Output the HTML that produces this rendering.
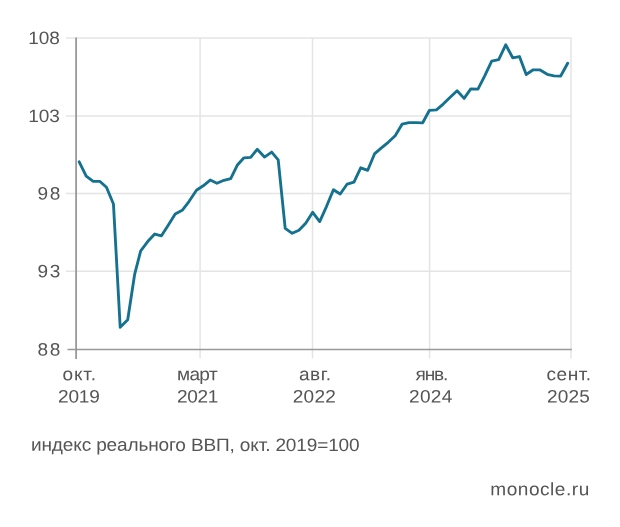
<!DOCTYPE html>
<html lang="ru"><head><meta charset="utf-8"><title>индекс реального ВВП</title>
<style>html,body{margin:0;padding:0;background:#fff}svg{display:block}</style></head>
<body>
<svg width="620" height="527" viewBox="0 0 620 527">
<rect width="620" height="527" fill="#fff"/>
<line x1="66" y1="37.9" x2="571.5" y2="37.9" stroke="#e4e4e4" stroke-width="1.5"/>
<line x1="66" y1="116.0" x2="571.5" y2="116.0" stroke="#e4e4e4" stroke-width="1.5"/>
<line x1="66" y1="193.6" x2="571.5" y2="193.6" stroke="#e4e4e4" stroke-width="1.5"/>
<line x1="66" y1="271.3" x2="571.5" y2="271.3" stroke="#e4e4e4" stroke-width="1.5"/>
<line x1="200.1" y1="38" x2="200.1" y2="358.5" stroke="#e4e4e4" stroke-width="1.5"/>
<line x1="312.5" y1="38" x2="312.5" y2="358.5" stroke="#e4e4e4" stroke-width="1.5"/>
<line x1="429.6" y1="38" x2="429.6" y2="358.5" stroke="#e4e4e4" stroke-width="1.5"/>
<line x1="571.0" y1="38" x2="571.0" y2="358.5" stroke="#e4e4e4" stroke-width="1.5"/>
<line x1="76.1" y1="37.5" x2="76.1" y2="359" stroke="#999999" stroke-width="1.8"/>
<line x1="67.5" y1="349.5" x2="571.8" y2="349.5" stroke="#999999" stroke-width="1.5"/>
<polyline points="79.2,161.8 86.2,176.05 93.2,181.3 99.7,181.3 106.45,187.3 113.45,204.05 120.2,327.3 127.7,319.8 134.7,274.05 140.7,250.8 147.7,241.55 154.7,234.05 161.45,235.8 168.2,225.3 175.2,214.05 182.2,210.3 188.95,201.55 196.45,190.3 203.2,185.8 210.2,180.05 216.95,183.3 223.95,180.3 230.7,178.55 237.2,165.3 243.95,157.8 250.7,157.3 257.2,149.3 264.45,157.05 271.7,152.05 278.2,159.8 285.2,228.3 292.2,233.3 298.95,230.3 305.7,223.3 312.7,212.3 319.7,221.55 326.45,206.55 333.45,189.7 340.2,194.05 347.2,184.05 353.95,182.05 360.7,167.8 367.7,170.3 374.7,153.55 381.45,147.8 388.2,142.3 395.2,135.8 402.2,124.05 408.95,122.55 415.95,122.55 422.7,122.8 429.45,110.3 436.45,109.8 443.2,104.05 450.2,97.2 457.1,90.8 464.1,98.4 470.8,88.9 477.95,89.05 484.7,75.8 491.7,61.05 498.7,59.55 505.7,44.8 512.7,57.8 519.45,56.55 526.2,74.55 533.2,69.8 539.7,69.8 547.2,74.3 553.95,75.8 560.7,76.05 567.7,63.3" fill="none" stroke="#14718f" stroke-width="2.85" stroke-linejoin="round" stroke-linecap="round"/>
<g font-family="'Liberation Sans', sans-serif" font-size="18" fill="#555557">
<text transform="translate(28.2,43.9) rotate(0.03) scale(1.06,1)" letter-spacing="-0.047">108</text>
<text transform="translate(28.2,122) rotate(0.03) scale(1.06,1)" letter-spacing="-0.047">103</text>
<text transform="translate(37.5,199.6) rotate(0.03) scale(1.06,1)" letter-spacing="1.509">98</text>
<text transform="translate(37.5,277.3) rotate(0.03) scale(1.06,1)" letter-spacing="1.509">93</text>
<text transform="translate(37.5,355.5) rotate(0.03) scale(1.06,1)" letter-spacing="1.509">88</text>
<text transform="translate(62.5,380.2) rotate(0.03) scale(1.06,1)" letter-spacing="0.786">окт.</text>
<text transform="translate(58,402.5) rotate(0.03) scale(1.06,1)" letter-spacing="-0.157">2019</text>
<text transform="translate(177,380.2) rotate(0.03) scale(1.06,1)" letter-spacing="-0.629">март</text>
<text transform="translate(177,402.5) rotate(0.03) scale(1.06,1)" letter-spacing="-0.314">2021</text>
<text transform="translate(299,380.2) rotate(0.03) scale(1.06,1)" letter-spacing="0.472">авг.</text>
<text transform="translate(292.75,402.5) rotate(0.03) scale(1.06,1)" letter-spacing="0.236">2022</text>
<text transform="translate(415.5,380.2) rotate(0.03) scale(1.06,1)" letter-spacing="-1.101">янв.</text>
<text transform="translate(409,402.5) rotate(0.03) scale(1.06,1)" letter-spacing="0.314">2024</text>
<text transform="translate(546.5,380.2) rotate(0.03) scale(1.06,1)" letter-spacing="0.472">сент.</text>
<text transform="translate(547,402.5) rotate(0.03) scale(1.06,1)" letter-spacing="0.157">2025</text>
<text transform="translate(31,450.8) rotate(0.03) scale(1.06,1)" letter-spacing="-0.153">индекс реального ВВП, окт. 2019=100</text>
<text transform="translate(490.25,495.3) rotate(0.03) scale(1.06,1)" letter-spacing="0.498">monocle.ru</text>
</g></svg>
</body></html>
